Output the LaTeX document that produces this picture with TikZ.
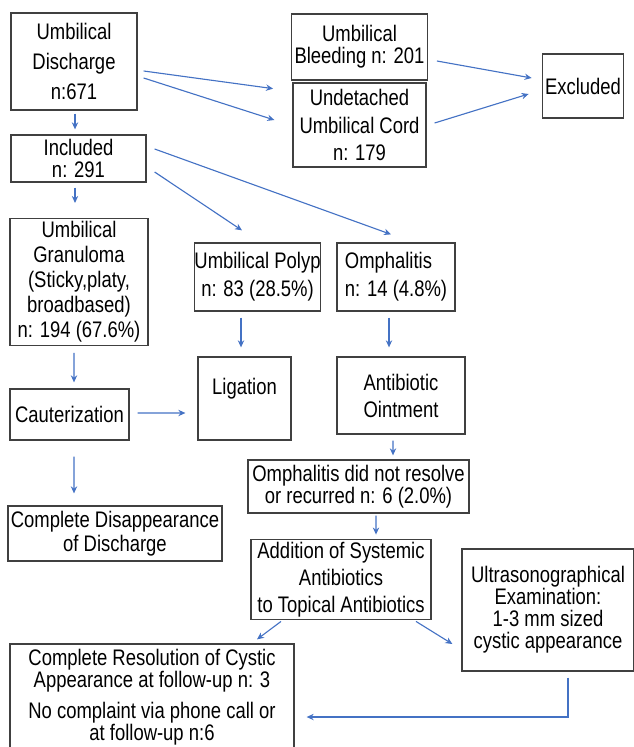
\documentclass[tikz,border=0pt]{standalone}
\usepackage{fontspec}
\setmainfont[FakeStretch=0.82]{Liberation Sans}
\usetikzlibrary{arrows.meta,calc}

\definecolor{boxgray}{HTML}{404040}
\definecolor{flowblue}{HTML}{4472C4}

\tikzset{
  box/.style={draw=boxgray, line width=0.9pt, inner sep=2pt, align=center, text=black,
    font=\fontsize{16}{19}\selectfont},
  dims/.style 2 args={minimum width=#1*0.025cm, minimum height=#2*0.025cm},
  linegap/.style={font=\fontsize{16}{#1}\selectfont},
  flow/.style={draw=flowblue, line width=0.8pt, -{Stealth[length=5pt,width=4.5pt]}},
}

\begin{document}
\begin{tikzpicture}[x=0.025cm, y=-0.025cm]
  \useasboundingbox (0,0) rectangle (633,747);

  % boxes
  \node[box, dims={126}{97}, linegap=21.3] (disch) at (74,61.5) {Umbilical\\Discharge\\n:671};
  \node[box, dims={135}{47}, linegap=15] (incl) at (78.5,158.5) {Included\\n: 291};
  \node[box, dims={133}{66}, linegap=15.6] (bleed) at (359.5,47) {Umbilical\\Bleeding n: 201};
  \node[box, dims={133}{84}, linegap=19.5] (undet) at (359.5,125) {Undetached\\Umbilical Cord\\n: 179};
  \node[box, dims={80}{64}] (excl) at (583,86) {Excluded};
  \node[box, dims={138}{126}, linegap=17.8] (gran) at (79,282) {Umbilical\\Granuloma\\(Sticky,platy,\\broadbased)\\n: 194 (67.6\%)};
  \node[box, dims={123}{68}, linegap=20, inner xsep=0pt] (polyp) at (257.5,277) {Umbilical Polyp\\n: 83 (28.5\%)};
  \node[box, dims={118}{68}, linegap=20, align=left] (omph) at (396,277) {Omphalitis\\n: 14 (4.8\%)};
  \node[box, dims={119}{51}] (caut) at (69.5,414.5) {Cauterization};
  \node[box, dims={93}{83}, text depth=17pt] (lig) at (244.5,398.5) {Ligation};
  \node[box, dims={128}{77}, linegap=19.2] (oint) at (401,395.5) {Antibiotic\\Ointment};
  \node[box, dims={221}{53}, linegap=14.2] (resolve) at (358.5,486.5) {Omphalitis did not resolve\\or recurred n: 6 (2.0\%)};
  \node[box, dims={210}{55}, linegap=17] (disap) at (115,533.5) {Complete Disappearance\\of Discharge};
  \node[box, dims={180}{75}, linegap=19.2] (addsys) at (341,579.5) {Addition of Systemic\\Antibiotics\\to Topical Antibiotics};
  \node[box, dims={172}{122}, linegap=15.6] (ultra) at (548,610) {Ultrasonographical\\Examination:\\1-3 mm sized\\cystic appearance};
  \node[box, dims={284}{106}, linegap=15.6] (resol) at (152,697) {Complete Resolution of Cystic\\Appearance at follow-up n: 3\\[6.4pt]No complaint via phone call or\\at follow-up n:6};

  % arrows
  \draw[flow] ($(disch.south)+(1,3)$) -- ($(incl.north)+(-3.5,-5)$);
  \draw[flow] ($(incl.south)+(-3.5,5)$) -- ($(gran.north)+(-4,-15)$);
  \draw[flow] ($(disch.east)+(6,9.5)$) -- ($(bleed.south west)+(-18,8)$);
  \draw[flow] ($(disch.east)+(6,16.5)$) -- ($(undet.west)+(-18,-5)$);
  \draw[flow] ($(bleed.east)+(9,14)$) -- ($(excl.west)+(-10,-8)$);
  \draw[flow] ($(undet.east)+(8,-2)$) -- ($(excl.west)+(-13,8)$);
  \draw[flow] ($(incl.east)+(8,-9.5)$) -- ($(omph.north)+(-5,-8)$);
  \draw[flow] ($(incl.east)+(8,13.5)$) -- ($(polyp.north)+(-15.5,-12)$);
  \draw[flow] ($(gran.south)+(-5,7)$) -- ($(caut.north)+(4.5,-6)$);
  \draw[flow] ($(polyp.south)+(-16.5,6)$) -- ($(lig.north)+(-3.5,-9)$);
  \draw[flow] ($(omph.south)+(-7,6)$) -- ($(oint.north)+(-12,-9)$);
  \draw[flow] ($(caut.east)+(8,-1.5)$) -- ($(lig.west)+(-12,14.5)$);
  \draw[flow] ($(caut.south)+(4.5,16)$) -- ($(disap.north)+(-41,-12)$);
  \draw[flow] ($(oint.south)+(-8,6)$) -- ($(resolve.north)+(34.5,-4)$);
  \draw[flow] ($(resolve.south)+(17.5,2)$) -- ($(addsys.north)+(35,-4)$);
  \draw[flow] ($(addsys.south)+(-60,1)$) -- ($(resol.north)+(105,-4)$);
  \draw[flow] ($(addsys.south)+(75,1)$) -- ($(ultra.west)+(-9,34)$);
  \draw[flow, line width=1.2pt] ($(ultra.south)+(20,6)$) |- ($(resol.east)+(12,20)$);
\end{tikzpicture}
\end{document}
